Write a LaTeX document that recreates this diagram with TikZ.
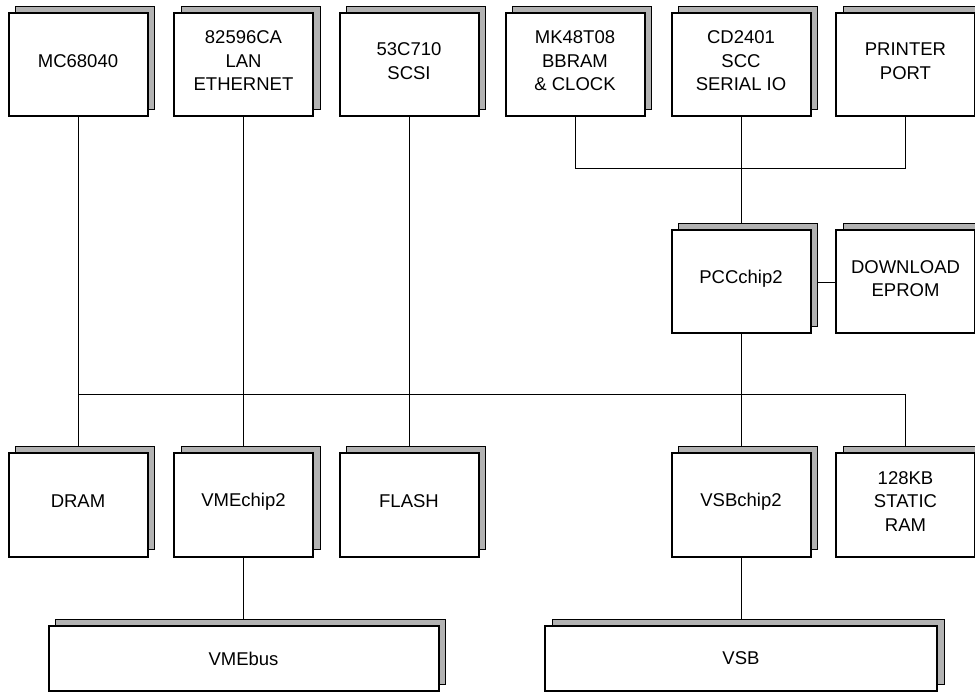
\documentclass[tikz,border=0pt]{standalone}
\usepackage{fontspec}
\setmainfont{Liberation Sans}
\usetikzlibrary{shadows,backgrounds,calc}
\definecolor{shadowgray}{RGB}{178,178,178}
\tikzset{
  chip/.style={draw=black, line width=2pt, fill=white, minimum width=139pt, minimum height=103pt,
    inner sep=0pt, outer sep=0pt,
    copy shadow={shadow xshift=7pt, shadow yshift=7pt, fill=shadowgray, draw=black, line width=0.9pt}},
  busbox/.style={chip, minimum height=65pt},
  chiptext/.style={align=center, font=\fontsize{18.5}{23.5}\selectfont, inner sep=0pt},
  wire/.style={draw=black, line width=0.9pt}
}
\newcommand\chipbox[5][chip]{%
  \node[#1] (#2) at (#3,#4) {};
  \node[chiptext] (#2-t) at ([yshift=3.5pt]#2.center) {#5};}
\begin{document}
\begin{tikzpicture}[x=1pt,y=-1pt]
\useasboundingbox (0,0) rectangle (975,692);
\clip (0,0) rectangle (975,692);
% top row
\chipbox{mc}{78}{64.5}{MC68040}
\chipbox{lan}{243.5}{64.5}{82596CA\\LAN\\ETHERNET}
\chipbox{scsi}{409}{64.5}{53C710\\SCSI}
\chipbox{bbram}{575}{64.5}{MK48T08\\BBRAM\\\& CLOCK}
\chipbox{scc}{741}{64.5}{CD2401\\SCC\\SERIAL IO}
\chipbox{prn}{905.5}{64.5}{PRINTER\\PORT}
% middle row
\chipbox{pcc}{741}{282}{PCCchip2}
\chipbox{eprom}{905.5}{282}{DOWNLOAD\\EPROM}
% bottom row
\chipbox{dram}{78}{505}{DRAM}
\chipbox{vme}{243.5}{505}{VMEchip2}
\chipbox{flash}{409}{505}{FLASH}
\chipbox{vsbc}{741}{505}{VSBchip2}
\chipbox{sram}{905.5}{505}{128KB\\STATIC\\RAM}
% buses
\node[busbox, minimum width=390pt] (vmebus) at (243.5,658.5) {};
\node[chiptext] (vmebus-t) at (vmebus.center) {VMEbus};
\node[busbox, minimum width=392pt] (vsb) at (741,658.5) {};
\node[chiptext] (vsb-t) at (vsb.center) {VSB};
% connectors
\coordinate (busL) at (mc.south |- 0,394);
\coordinate (busR) at (sram.north |- 0,394);
\coordinate (ioL) at (bbram.south |- 0,168);
\coordinate (ioR) at (prn.south |- 0,168);
\begin{pgfonlayer}{background}
\draw[wire] (mc.south) -- (dram.north);
\draw[wire] (lan.south) -- (vme.north);
\draw[wire] (scsi.south) -- (flash.north);
\draw[wire] (busL) -- (busR) -- (sram.north);
\draw[wire] (pcc.south) -- (vsbc.north);
\draw[wire] (bbram.south) -- (ioL) -- (ioR) -- (prn.south);
\draw[wire] (scc.south) -- (pcc.north);
\draw[wire] (pcc.east) -- (eprom.west);
\draw[wire] (vme.south) -- (vmebus.north);
\draw[wire] (vsbc.south) -- (vsb.north);
\end{pgfonlayer}
\end{tikzpicture}
\end{document}
